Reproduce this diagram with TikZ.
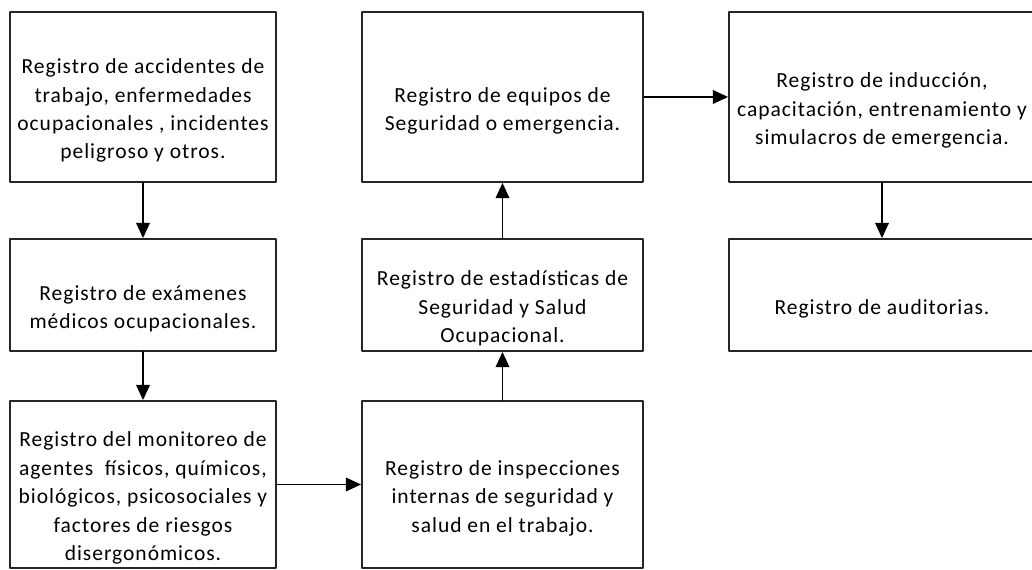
\documentclass[tikz,border=0pt]{standalone}
\usepackage{fontspec}
\setmainfont{Carlito}
\newfontfamily\regfont[LetterSpace=4.5]{Carlito}
\usepackage{tikz}
\usetikzlibrary{arrows.meta}

% espacio superior del texto en cada caja
\newcommand{\regsp}{\rule{0pt}{30pt}}

\tikzset{
  regbox/.style={draw=black!85,line width=1.3pt,align=center,inner sep=0pt,
    font=\regfont\fontsize{15.3}{20.2}\selectfont},
  flow/.style={->,line width=1.2pt}
}

\begin{document}
\begin{tikzpicture}[line cap=round,line join=round,>={Triangle[length=0.38cm,width=0.34cm]},x=0.025cm,y=-0.025cm]
\useasboundingbox (0,0) rectangle (1032,570);
% columna izquierda
\node[regbox,minimum width=266*0.025cm,minimum height=170*0.025cm] (acc) at (143,97)
  {\regsp Registro de accidentes de\\trabajo, enfermedades\\ocupacionales , incidentes\\peligroso y otros.};
\node[regbox,minimum width=266*0.025cm,minimum height=112*0.025cm] (exa) at (143,295)
  {\regsp Registro de exámenes\\médicos ocupacionales.};
\node[regbox,minimum width=266*0.025cm,minimum height=167*0.025cm] (mon) at (143,484.5)
  {\regsp Registro del monitoreo de\\agentes\ \ físicos, químicos,\\biológicos, psicosociales y\\factores de riesgos\\disergonómicos.};
% columna central
\node[regbox,minimum width=281*0.025cm,minimum height=112*0.025cm] (est) at (502.5,295)
  {\regsp Registro de estadísticas de\\Seguridad y Salud\\Ocupacional.};
\node[regbox,minimum width=281*0.025cm,minimum height=170*0.025cm] (equ) at (502.5,97)
  {\regsp Registro de equipos de\\Seguridad o emergencia.};
\node[regbox,minimum width=281*0.025cm,minimum height=167*0.025cm] (insp) at (502.5,484.5)
  {\regsp Registro de inspecciones\\internas de seguridad y\\salud en el trabajo.};
% columna derecha
\node[regbox,minimum width=306*0.025cm,minimum height=170*0.025cm] (ind) at (882,97)
  {\regsp Registro de inducción,\\capacitación, entrenamiento y\\simulacros de emergencia.};
\node[regbox,minimum width=306*0.025cm,minimum height=112*0.025cm] (aud) at (882,295)
  {\regsp Registro de auditorias.};
% flechas
\draw[flow] (acc) -- (exa);
\draw[flow] (exa) -- (mon);
\draw[flow] (mon) -- (insp);
\draw[flow] (insp) -- (est);
\draw[flow] (est) -- (equ);
\draw[flow] (equ) -- (ind);
\draw[flow] (ind) -- (aud);
\end{tikzpicture}
\end{document}
